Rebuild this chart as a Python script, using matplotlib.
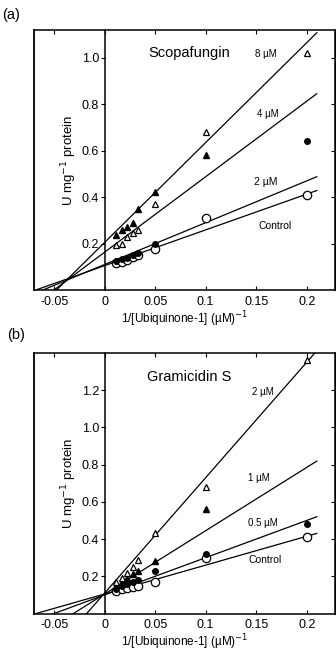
import numpy as np
import matplotlib
matplotlib.use('Agg')
import matplotlib.pyplot as plt
from matplotlib import transforms

plt.rcParams['font.family'] = ['Liberation Sans', 'DejaVu Sans']
plt.rcParams['axes.unicode_minus'] = False

# 1/[Ubiquinone-1] values (uM^-1)
x = [0.0111, 0.0167, 0.0222, 0.0278, 0.0333, 0.05, 0.1, 0.2]

# panel (a) Scopafungin, U mg-1 protein
a_control = [0.115, 0.122, 0.130, 0.142, 0.152, 0.178, 0.31, 0.41]
a_2uM = [0.125, 0.135, 0.14, 0.15, 0.16, 0.20, np.nan, 0.64]
a_4uM = [0.194, 0.20, 0.23, 0.245, 0.26, 0.37, 0.68, 1.02]
a_8uM = [0.237, 0.259, 0.27, 0.288, 0.35, 0.42, 0.58, np.nan]
a_fit_int = [0.105, 0.11, 0.163, 0.205]
a_fit_slope = [1.54, 1.8, 3.25, 4.3]

# panel (b) Gramicidin S
b_control = [0.12, 0.13, 0.135, 0.14, 0.15, 0.17, 0.30, 0.41]
b_05uM = [0.13, 0.15, 0.16, 0.17, 0.18, 0.23, 0.32, 0.48]
b_1uM = [0.15, 0.17, 0.19, 0.21, 0.23, 0.28, 0.56, np.nan]
b_2uM = [0.17, 0.19, 0.22, 0.25, 0.29, 0.43, 0.68, 1.36]
b_fit_int = [0.105, 0.10, 0.105, 0.11]
b_fit_slope = [1.55, 2.0, 3.4, 6.2]

x_fit = np.array([-0.07, 0.21])
xticks = [-0.05, 0, 0.05, 0.1, 0.15, 0.2]
xticklabels = ['-0.05', '0', '0.05', '0.1', '0.15', '0.2']

fig = plt.figure(figsize=(3.36, 6.51), dpi=100)
ax_a = fig.add_axes([0.101, 0.5545, 0.896, 0.3995])
ax_b = fig.add_axes([0.101, 0.0576, 0.896, 0.4002])


def style(ax, ylim, yticks):
    ax.set_xlim(-0.07, 0.228)
    ax.set_ylim(*ylim)
    ax.spines['left'].set_position(('data', 0))
    for s in ax.spines.values():
        s.set_linewidth(1.1)
    ax.plot([0, 0], [0, 1], transform=ax.transAxes, color='k', lw=1.3, clip_on=False)
    ax.set_xticks(xticks)
    ax.set_xticklabels(xticklabels)
    ax.set_yticks(yticks)
    ax.set_yticklabels([f'{v:.1f}' for v in yticks])
    ax.tick_params(axis='x', direction='in', top=True, length=3, labelsize=9, pad=4)
    ax.tick_params(axis='y', direction='out', length=3, labelsize=9, pad=1)
    sec = ax.secondary_yaxis('right')
    sec.set_yticks(yticks)
    sec.tick_params(direction='in', length=3, labelright=False)
    ax.set_xlabel('1/[Ubiquinone-1] (\u00b5M)$^{-1}$', fontsize=8.5, labelpad=1)
    ax.set_ylabel('U mg$^{-1}$ protein', fontsize=9.5, va='center')
    trans = transforms.blended_transform_factory(ax.transData, ax.transAxes)
    ax.yaxis.set_label_coords(-0.035, 0.5, transform=trans)


def fits(ax, ints, slopes):
    for i, s in zip(ints, slopes):
        ax.plot(x_fit, i + s * x_fit, color='k', lw=0.9)


# (a)
style(ax_a, (0, 1.12), [0.2, 0.4, 0.6, 0.8, 1.0])
fits(ax_a, a_fit_int, a_fit_slope)
ax_a.plot(x, a_control, 'o', mfc='white', mec='k', ms=6, mew=0.9)
ax_a.plot(x, a_2uM, 'o', color='k', ms=4)
ax_a.plot(x, a_4uM, '^', mfc='white', mec='k', ms=4.5, mew=0.9)
ax_a.plot(x, a_8uM, '^', color='k', ms=4)
ax_a.text(0.084, 1.02, 'Scopafungin', fontsize=10.5, ha='center', va='center')
ax_a.text(0.16, 1.016, '8 \u00b5M', fontsize=7, ha='center', va='center')
ax_a.text(0.162, 0.76, '4 \u00b5M', fontsize=7, ha='center', va='center')
ax_a.text(0.159, 0.467, '2 \u00b5M', fontsize=7.5, ha='center', va='center')
ax_a.text(0.169, 0.276, 'Control', fontsize=7.5, ha='center', va='center')
fig.text(0.005, 0.977, '(a)', fontsize=10.5, ha='left', va='center')

# (b)
style(ax_b, (0, 1.4), [0.2, 0.4, 0.6, 0.8, 1.0, 1.2])
fits(ax_b, b_fit_int, b_fit_slope)
ax_b.plot(x, b_control, 'o', mfc='white', mec='k', ms=6, mew=0.9)
ax_b.plot(x, b_05uM, 'o', color='k', ms=4)
ax_b.plot(x, b_1uM, '^', color='k', ms=4)
ax_b.plot(x, b_2uM, '^', mfc='white', mec='k', ms=4.5, mew=0.9)
ax_b.text(0.084, 1.273, 'Gramicidin S', fontsize=10.5, ha='center', va='center')
ax_b.text(0.157, 1.19, '2 \u00b5M', fontsize=7, ha='center', va='center')
ax_b.text(0.153, 0.727, '1 \u00b5M', fontsize=7, ha='center', va='center')
ax_b.text(0.157, 0.485, '0.5 \u00b5M', fontsize=7, ha='center', va='center')
ax_b.text(0.159, 0.288, 'Control', fontsize=7.5, ha='center', va='center')
fig.text(0.02, 0.485, '(b)', fontsize=10.5, ha='left', va='center')

fig.savefig('out.png', dpi=100)
